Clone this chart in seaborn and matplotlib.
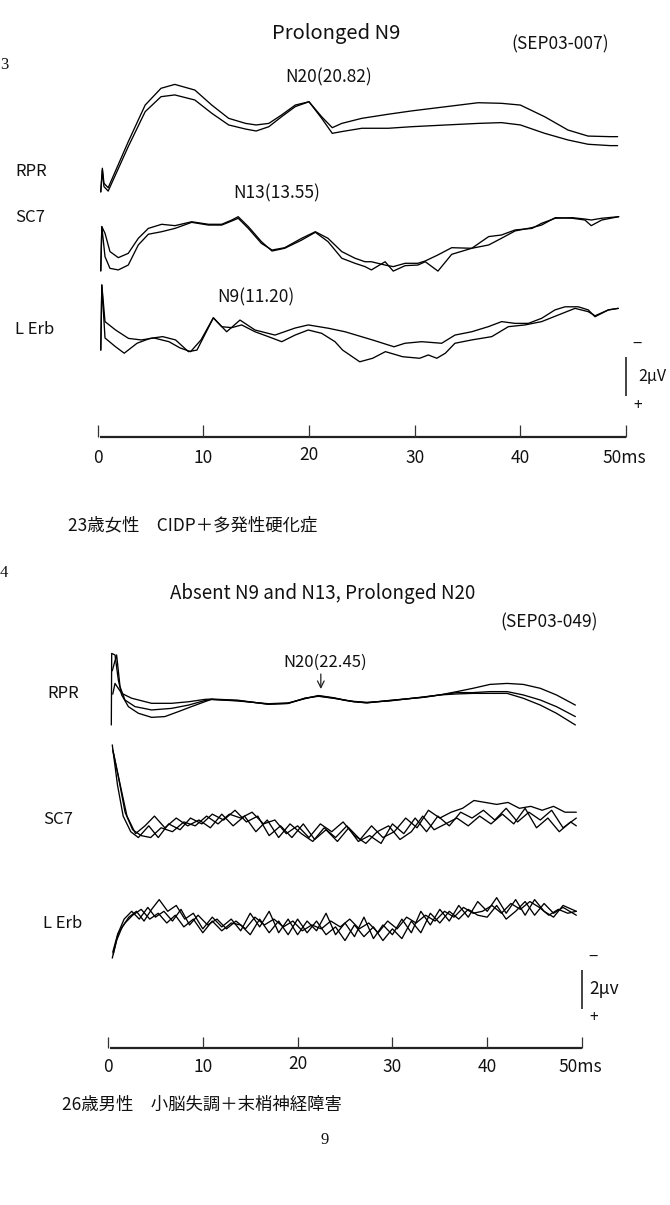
import numpy as np
import matplotlib
matplotlib.use('Agg')
import matplotlib.pyplot as plt
import seaborn as sns

# ---- panel 1 (SEP03-007), values in uV, negative = up ----
p1_rpr_t = [0.3, 0.45, 0.6, 1.0, 2.9, 4.5, 6.0, 7.3, 9.2, 10.8, 12.4, 14.0, 15.0, 16.2, 17.4, 18.7,
            20.0, 21.2, 22.2, 23.1, 25.0, 27.5, 29.7, 33.0, 36.0, 38.2, 40.0, 42.3, 44.5, 46.4, 48.5, 49.2]
p1_rpr_a = [1.11, -0.09, 0.68, 0.91, -1.45, -3.33, -4.19, -4.39, -4.10, -3.33, -2.65, -2.39, -2.31, -2.39,
            -2.82, -3.33, -3.50, -2.73, -2.17, -2.39, -2.65, -2.86, -3.03, -3.25, -3.45, -3.42, -3.33,
            -2.73, -2.05, -1.74, -1.71, -1.71]
p1_rpr_b = [1.13, 0.0, 0.85, 1.08, -1.20, -2.99, -3.76, -3.85, -3.59, -2.91, -2.31, -2.10, -2.00, -2.22,
            -2.73, -3.25, -3.50, -2.65, -1.88, -1.97, -2.14, -2.14, -2.22, -2.31, -2.39, -2.43, -2.31,
            -1.88, -1.54, -1.32, -1.25, -1.25]

p1_sc7_t = [0.3, 0.4, 0.7, 1.17, 1.96, 2.9, 3.85, 4.8, 6.06, 7.32, 8.9, 10.5, 11.74, 12.7, 13.3, 14.26,
            15.5, 16.5, 17.7, 19.3, 20.6, 21.8, 23.1, 24.35, 25.3, 25.9, 27.2, 27.97, 29.1, 30.3, 31.0,
            32.2, 33.5, 35.4, 37.0, 38.2, 39.5, 41.1, 42.0, 43.3, 44.9, 46.1, 46.7, 47.7, 49.3]
p1_sc7_a = [2.2, -0.07, 0.27, 1.21, 1.52, 1.30, 0.53, 0.02, -0.19, -0.12, -0.32, -0.19, -0.19, -0.41,
            -0.58, -0.07, 0.70, 1.18, 1.04, 0.62, 0.22, 0.70, 1.55, 1.81, 1.98, 2.15, 1.73, 2.21, 1.93,
            1.90, 1.73, 2.21, 1.35, 1.04, 0.87, 0.53, 0.15, -0.02, -0.15, -0.53, -0.50, -0.41, -0.12,
            -0.41, -0.58]
p1_sc7_b = [2.2, -0.07, 1.47, 2.07, 2.15, 1.90, 0.87, 0.32, 0.19, 0.02, -0.29, -0.15, -0.15, -0.36,
            -0.50, 0.02, 0.79, 1.13, 1.01, 0.53, 0.19, 0.53, 1.21, 1.55, 1.73, 1.73, 1.90, 1.98, 1.81,
            1.81, 1.69, 1.38, 1.01, 1.04, 0.44, 0.36, 0.10, 0.02, -0.24, -0.50, -0.53, -0.46, -0.41,
            -0.50, -0.58]

p1_erb_c_t = [0.3, 0.4, 0.7, 1.7, 2.92, 4.13, 5.34, 6.75, 7.8, 8.8, 9.78, 10.95, 12.21, 13.47, 14.89,
              16.78, 18.68, 19.93, 21.83, 23.41, 26.0, 28.04, 29.08, 30.66, 32.55, 33.81, 35.39, 36.96,
              38.23, 39.49, 40.75, 42.01, 43.27, 44.22, 45.48, 46.42, 47.06, 48.32, 49.26]
p1_erb_c = [1.03, -2.31, -0.43, 0.0, 0.43, 0.51, 0.41, 0.60, 0.92, 1.11, 0.51, -0.63, 0.09, -0.51, 0.0,
            0.26, -0.10, -0.26, -0.09, 0.09, 0.51, 0.86, 0.68, 0.60, 0.68, 0.26, 0.09, -0.17, -0.43,
            -0.34, -0.34, -0.60, -1.03, -1.19, -1.19, -1.03, -0.68, -1.03, -1.11]
p1_erb_d_t = [0.3, 0.4, 0.7, 1.7, 2.52, 3.73, 4.96, 6.16, 7.38, 8.59, 9.4, 10.95, 11.74, 12.69, 13.63,
              14.89, 16.15, 17.42, 18.68, 19.93, 21.2, 22.46, 23.18, 24.8, 26.02, 27.23, 28.86, 30.47,
              31.29, 32.09, 32.9, 33.81, 35.39, 37.29, 38.86, 40.43, 42.01, 43.59, 45.17, 46.42, 47.06,
              48.32, 49.26]
p1_erb_d = [1.03, -2.31, 0.41, 0.86, 1.19, 0.68, 0.43, 0.34, 0.51, 1.11, 1.03, -0.62, -0.17, -0.12,
            -0.26, 0.09, 0.34, 0.60, 0.26, 0.0, 0.17, 0.60, 1.03, 1.63, 1.45, 1.11, 1.37, 1.45, 1.28,
            1.45, 1.19, 0.68, 0.51, 0.34, -0.17, -0.26, -0.43, -0.77, -1.11, -0.94, -0.73, -1.03, -1.11]

# ---- panel 2 (SEP03-049) ----
p2_rpr_1_t = [0.35, 0.39, 0.74, 1.09, 1.44, 2.15, 3.2, 4.6, 6.0, 7.4, 8.8, 10.2, 10.9, 13.7, 16.9, 19.0,
              20.8, 22.2, 23.9, 25.0, 25.9, 27.3, 29.7, 33.3, 35.0, 36.8, 38.5, 40.3, 42.1, 43.8, 45.6,
              47.3, 49.3]
p2_rpr_1 = [1.28, -2.39, -2.31, -1.03, -0.26, 0.34, 0.68, 0.89, 0.85, 0.60, 0.34, 0.09, -0.03, 0.03,
            0.21, 0.17, -0.09, -0.21, -0.09, 0.0, 0.09, 0.14, 0.03, -0.14, -0.26, -0.31, -0.34, -0.34,
            -0.34, -0.09, 0.26, 0.68, 1.28]
p2_rpr_2_t = [0.45, 0.91, 1.27, 1.79, 2.85, 4.6, 6.7, 8.5, 10.2, 10.9, 13.7, 16.9, 19.0, 20.8, 22.2,
              23.9, 25.0, 25.9, 27.3, 29.7, 33.3, 35.0, 36.8, 38.5, 40.3, 42.1, 43.8, 45.6, 47.3, 49.3]
p2_rpr_2 = [-1.5, -2.31, -0.68, 0.0, 0.34, 0.51, 0.43, 0.26, 0.03, -0.03, 0.05, 0.19, 0.15, -0.07,
            -0.23, -0.11, 0.02, 0.07, 0.12, 0.05, -0.16, -0.26, -0.38, -0.38, -0.43, -0.43, -0.26, 0.0,
            0.34, 0.85]
p2_rpr_3_t = [0.5, 0.74, 1.44, 2.5, 4.6, 6.7, 8.5, 10.2, 10.9, 13.7, 16.9, 19.0, 20.8, 22.2, 23.9,
              25.0, 25.9, 27.3, 29.7, 33.3, 35.0, 36.8, 38.5, 40.3, 42.1, 43.8, 45.6, 47.3, 49.3]
p2_rpr_3 = [-0.3, -0.85, -0.34, -0.09, 0.17, 0.17, 0.09, -0.03, -0.05, 0.01, 0.22, 0.18, -0.1, -0.19,
            -0.08, 0.01, 0.08, 0.15, 0.02, -0.14, -0.26, -0.43, -0.60, -0.80, -0.85, -0.80, -0.60,
            -0.26, 0.26]

p2_sc7_1_t = [0.45, 1.0, 1.6, 2.4, 3.2, 4.3, 5.3, 6.4, 7.6, 8.7, 9.9, 11.0, 12.2, 13.4, 14.6, 15.8,
              17.0, 18.2, 19.4, 20.6, 21.8, 23.0, 24.2, 25.4, 26.6, 27.8, 29.0, 30.2, 31.4, 32.6, 33.8,
              35.0, 36.2, 37.4, 38.6, 39.8, 41.0, 42.2, 43.4, 44.6, 45.8, 47.0, 48.2, 49.4]
p2_sc7_1 = [-3.85, -1.8, -0.2, 0.6, 0.9, 0.3, 0.9, 0.2, 0.5, -0.1, 0.2, -0.3, 0.0, -0.5, 0.1, -0.2,
            0.8, 0.3, 0.9, 0.2, 1.0, 0.5, 1.1, 0.4, 1.0, 0.3, 0.9, 0.6, -0.1, 0.4, -0.5, -0.1, -0.4,
            -0.6, -1.0, -0.9, -0.8, -0.9, -0.6, -0.7, -0.5, -0.7, -0.4, -0.4]
p2_sc7_2_t = [0.5, 1.1, 1.8, 2.6, 3.5, 4.5, 5.6, 6.8, 8.0, 9.2, 10.4, 11.6, 12.8, 14.0, 15.2, 16.4,
              17.6, 18.8, 20.0, 21.2, 22.4, 23.6, 24.8, 26.0, 27.2, 28.4, 29.6, 30.8, 32.0, 33.2, 34.4,
              35.6, 36.8, 38.0, 39.2, 40.4, 41.6, 42.8, 44.0, 45.2, 46.4, 47.6, 48.8, 49.4]
p2_sc7_2 = [-3.6, -2.2, -0.4, 0.5, 0.8, 0.9, 0.4, 0.6, 0.1, 0.3, -0.2, 0.2, -0.3, -0.1, -0.4, 0.2,
            0.0, 0.7, 0.3, 0.9, 0.2, 0.6, 0.1, 0.8, 1.2, 0.6, 0.3, 1.0, 0.6, -0.2, 0.5, 0.2, -0.1,
            0.3, -0.2, 0.2, -0.3, 0.2, -0.6, 0.4, -0.1, 0.6, 0.1, 0.3]
p2_sc7_3_t = [0.55, 1.2, 2.0, 2.9, 3.9, 4.9, 6.0, 7.2, 8.4, 9.6, 10.8, 12.0, 13.2, 14.4, 15.6, 16.8,
              18.0, 19.2, 20.4, 21.6, 22.8, 24.0, 25.2, 26.4, 27.6, 28.8, 30.0, 31.2, 32.4, 33.6, 34.8,
              36.0, 37.2, 38.4, 39.6, 40.8, 42.0, 43.2, 44.4, 45.6, 46.8, 48.0, 49.4]
p2_sc7_3 = [-3.5, -2.0, -0.2, 0.7, 0.3, -0.2, 0.4, -0.1, 0.3, 0.0, 0.4, -0.3, 0.3, -0.2, 0.6, 0.0,
            0.9, 0.2, 0.7, 1.1, 0.4, 0.9, 0.3, 1.1, 0.8, 1.2, 0.2, 0.7, -0.1, 0.6, -0.2, 0.3, -0.4,
            -0.1, -0.5, 0.0, -0.6, 0.1, -0.4, 0.0, -0.5, 0.4, -0.1]

p2_erb_1_t = [0.45, 0.9, 1.5, 2.2, 3.0, 3.8, 4.6, 5.4, 6.3, 7.2, 8.1, 9.0, 10.0, 11.0, 12.0, 13.0,
              14.0, 15.0, 16.0, 17.0, 18.0, 19.0, 20.0, 21.0, 22.0, 23.0, 24.0, 25.0, 26.0, 27.0, 28.0,
              29.0, 30.0, 31.0, 32.0, 33.0, 34.0, 35.0, 36.0, 37.0, 38.0, 39.0, 40.0, 41.0, 42.0, 43.0,
              44.0, 45.0, 46.0, 47.0, 48.0, 49.4]
p2_erb_1 = [1.8, 0.9, 0.2, -0.3, -0.6, -0.1, -0.7, -1.2, -0.6, -0.9, -0.2, -0.5, 0.3, -0.3, 0.2, -0.2,
            0.4, -0.5, 0.2, -0.6, 0.5, -0.2, 0.6, -0.1, 0.4, -0.5, 0.6, 0.0, 0.7, -0.3, 0.8, 0.1, 0.6,
            -0.2, 0.5, -0.6, 0.1, -0.7, -0.1, -0.9, -0.3, -1.1, -0.6, -1.3, -0.5, -1.2, -0.4, -1.2,
            -0.6, -0.3, -0.9, -0.6]
p2_erb_2_t = [0.5, 1.0, 1.7, 2.5, 3.3, 4.2, 5.0, 5.9, 6.8, 7.7, 8.6, 9.5, 10.5, 11.5, 12.5, 13.5, 14.5,
              15.5, 16.5, 17.5, 18.5, 19.5, 20.5, 21.5, 22.5, 23.5, 24.5, 25.5, 26.5, 27.5, 28.5, 29.5,
              30.5, 31.5, 32.5, 33.5, 34.5, 35.5, 36.5, 37.5, 38.5, 39.5, 40.5, 41.5, 42.5, 43.5, 44.5,
              45.5, 46.5, 47.5, 48.5, 49.4]
p2_erb_2 = [1.5, 0.6, -0.2, -0.6, -0.2, -0.8, -0.3, -0.6, -0.1, -0.7, 0.1, -0.4, 0.1, -0.2, 0.3, -0.1,
            0.3, -0.3, 0.1, -0.2, 0.2, -0.1, 0.4, 0.1, 0.3, -0.1, 0.2, -0.2, 0.3, 0.0, 0.5, -0.1, 0.3,
            -0.3, 0.0, -0.4, -0.1, -0.6, -0.3, -0.8, -0.5, -0.6, -0.9, -0.5, -1.0, -0.7, -1.1, -0.8,
            -0.4, -0.7, -0.5, -0.6]
p2_erb_3_t = [0.55, 1.1, 1.8, 2.6, 3.5, 4.4, 5.3, 6.2, 7.1, 8.0, 9.0, 10.0, 11.0, 12.0, 13.0, 14.0,
              15.0, 16.0, 17.0, 18.0, 19.0, 20.0, 21.0, 22.0, 23.0, 24.0, 25.0, 26.0, 27.0, 28.0, 29.0,
              30.0, 31.0, 32.0, 33.0, 34.0, 35.0, 36.0, 37.0, 38.0, 39.0, 40.0, 41.0, 42.0, 43.0, 44.0,
              45.0, 46.0, 47.0, 48.0, 49.4]
p2_erb_3 = [1.6, 0.5, 0.0, -0.4, -0.7, -0.2, -0.5, 0.0, -0.4, 0.2, -0.2, 0.5, -0.1, 0.4, 0.0, 0.1,
            0.6, -0.2, 0.5, -0.1, 0.6, -0.2, 0.5, -0.1, 0.6, 0.2, 0.9, 0.1, 0.7, 0.2, 0.9, 0.3, 0.8,
            -0.1, 0.5, -0.5, 0.0, -0.6, -0.2, -0.7, -0.4, -0.3, -0.9, -0.2, -0.6, -1.1, -0.4, -1.0,
            -0.5, -0.8, -0.4]

time_ticks = [0, 10, 20, 30, 40, 50]
tick_labels = ['0', '10', '20', '30', '40', '50ms']

W, H = 670, 1205
UV_PX = 19.5  # pixels per microvolt

sns.set_theme(style='white')
plt.rcParams['font.family'] = ['Noto Sans CJK JP', 'DejaVu Sans']

fig = plt.figure(figsize=(W / 100, H / 100), dpi=100)


def make_panel(top, bottom, x0, px_ms):
    ax = fig.add_axes([0, 1 - bottom / H, 1, (bottom - top) / H])
    ax.set_xlim(-x0 / px_ms, (W - x0) / px_ms)
    ax.set_ylim((bottom - top) / UV_PX, 0)
    ax.axis('off')
    return ax


def trace(ax, t, v, off):
    sns.lineplot(x=np.array(t), y=np.array(v) + off, ax=ax, color='black', linewidth=0.95,
                 estimator=None, sort=False, legend=False)


def ftext(x, y, s, size=12.5, ha='center', **kw):
    fig.text(x / W, 1 - y / H, s, fontsize=size, ha=ha, va='center', color='#111111', **kw)


def time_axis(ax, top, y_px, tick_len, label_y, px_ms, x0):
    yy = (y_px - top) / UV_PX
    ax.plot([0.2, 50], [yy, yy], color='#222222', lw=1.6, solid_capstyle='butt')
    ax.vlines(time_ticks, yy - tick_len / UV_PX, yy, color='#333333', lw=0.9)
    for tk, lab in zip(time_ticks, tick_labels):
        ly = label_y - (3 if tk == 20 else 0)
        if lab.endswith('ms'):
            ftext(x0 + tk * px_ms - 24, ly, lab, ha='left')
        else:
            ftext(x0 + tk * px_ms, ly, lab)


def scale_bar(ax, top, x_ms, y0_px, label_x, label, px_ms, x0, size=12.5):
    y0 = (y0_px - top) / UV_PX
    ax.vlines(x_ms, y0, y0 + 2.0, color='#222222', lw=1.2)
    bx = x0 + x_ms * px_ms
    ftext(bx + 11, y0_px - 13, '−', size=12)
    ftext(label_x, y0_px + 19, label, ha='left', size=size)
    ftext(bx + 12, y0_px + 48, '+', size=11)


# ---- panel 1 ----
T1, B1, X1, S1 = 0, 545, 97.6, 10.57
ax1 = make_panel(T1, B1, X1, S1)
rpr1, sc71, erb1 = 170 / UV_PX, 228 / UV_PX, 330 / UV_PX
for v in (p1_rpr_a, p1_rpr_b):
    trace(ax1, p1_rpr_t, v, rpr1)
for v in (p1_sc7_a, p1_sc7_b):
    trace(ax1, p1_sc7_t, v, sc71)
trace(ax1, p1_erb_c_t, p1_erb_c, erb1)
trace(ax1, p1_erb_d_t, p1_erb_d, erb1)
time_axis(ax1, T1, 437, 12, 458, S1, X1)
scale_bar(ax1, T1, 50, 357, 638, '2μV', S1, X1, size=11.5)

ftext(8, 65, '3', size=12, ha='right', family='Liberation Serif')
ftext(336, 33, 'Prolonged N9', size=14.5)
ftext(560, 44, '(SEP03-007)')
ftext(329, 77, 'N20(20.82)')
ftext(277, 193, 'N13(13.55)')
ftext(256, 297, 'N9(11.20)')
ftext(15, 172, 'RPR', size=12, ha='left')
ftext(15, 218, 'SC7', size=12, ha='left')
ftext(15, 330, 'L Erb', size=12, ha='left')
ftext(68, 525, '23歳女性　CIDP＋多発性硬化症', ha='left')

# ---- panel 2 ----
T2, B2, X2, S2 = 545, 1205, 108, 9.48
ax2 = make_panel(T2, B2, X2, S2)
rpr2, sc72, erb2 = (700 - T2) / UV_PX, (820 - T2) / UV_PX, (923 - T2) / UV_PX
trace(ax2, p2_rpr_1_t, p2_rpr_1, rpr2)
trace(ax2, p2_rpr_2_t, p2_rpr_2, rpr2)
trace(ax2, p2_rpr_3_t, p2_rpr_3, rpr2)
trace(ax2, p2_sc7_1_t, p2_sc7_1, sc72)
trace(ax2, p2_sc7_2_t, p2_sc7_2, sc72)
trace(ax2, p2_sc7_3_t, p2_sc7_3, sc72)
trace(ax2, p2_erb_1_t, p2_erb_1, erb2)
trace(ax2, p2_erb_2_t, p2_erb_2, erb2)
trace(ax2, p2_erb_3_t, p2_erb_3, erb2)
time_axis(ax2, T2, 1048, 11, 1067, S2, X2)
scale_bar(ax2, T2, 50, 970, 589, '2μv', S2, X2)

ax2.annotate('', xy=(22.45, (689 - T2) / UV_PX), xytext=(22.45, (674 - T2) / UV_PX),
             arrowprops=dict(arrowstyle='->', color='#222222', lw=0.9, shrinkA=0, shrinkB=0))

ftext(8, 573, '4', size=12, ha='right', family='Liberation Serif')
ftext(323, 593, 'Absent N9 and N13, Prolonged N20', size=13.5)
ftext(549, 622, '(SEP03-049)')
ftext(325, 662, 'N20(22.45)', size=12)
ftext(47, 693, 'RPR', size=12, ha='left')
ftext(43, 820, 'SC7', size=12, ha='left')
ftext(43, 923, 'L Erb', size=12, ha='left')
ftext(62, 1105, '26歳男性　小脳失調＋末梢神経障害', ha='left')
ftext(325, 1140, '9', size=12, family='Liberation Serif')

fig.savefig('out.png', dpi=100, facecolor='white')
